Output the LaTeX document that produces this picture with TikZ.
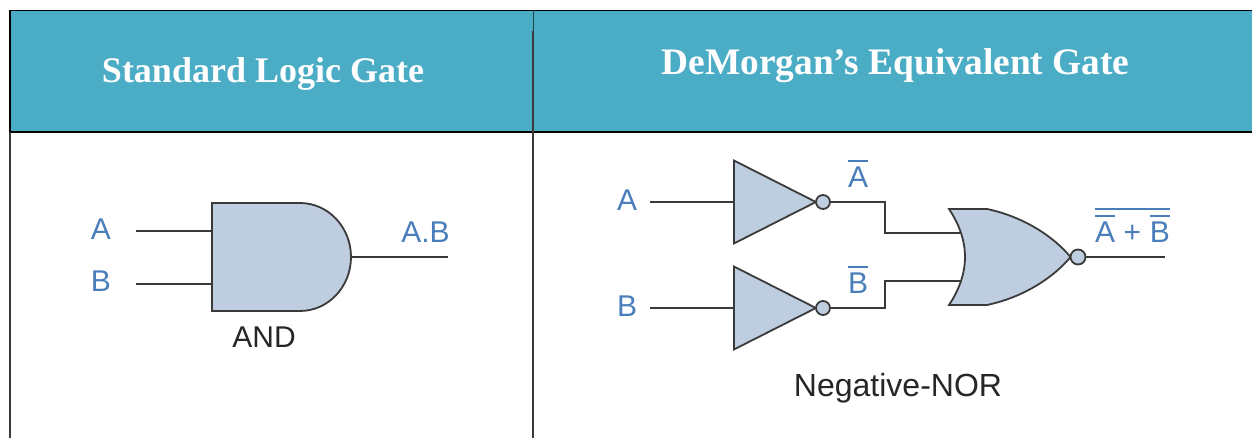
\documentclass[tikz,border=0pt]{standalone}
\usepackage{fontspec}
\setmainfont{Liberation Sans}
\newfontfamily\headfont{Liberation Serif}
\usetikzlibrary{positioning}
\usetikzlibrary{shapes.geometric}
\definecolor{headteal}{HTML}{4BACC6}
\definecolor{gatefill}{HTML}{BFCDE0}
\definecolor{gateline}{HTML}{3A3A3A}
\definecolor{labelblue}{HTML}{4A7EBB}
\newcommand{\ovl}[1]{\leavevmode\vbox{\hrule height 2.2pt \kern 5pt \hbox{#1}}}
\tikzset{
    headtxt/.style={anchor=base,text=white,font=\headfont\bfseries\fontsize{36}{36}\selectfont},
    lbltxt/.style={anchor=base,text=labelblue,font=\fontsize{30}{30}\selectfont,inner sep=0pt},
    gatetxt/.style={anchor=base,text=black!85,font=\fontsize{30}{30}\selectfont,inner sep=0pt},
    gatebody/.style={draw=gateline,fill=gatefill,line width=1.8pt},
    invgate/.style={gatebody,isosceles triangle,isosceles triangle stretches,minimum width=83pt,minimum height=82pt,inner sep=0pt},
    bubble/.style={gatebody,circle,minimum size=14pt,inner sep=0pt},
    wire/.style={draw=gateline,line width=2pt}
}
\begin{document}
\begin{tikzpicture}[x=1pt,y=1pt]
                \useasboundingbox (0,0) rectangle (1252,438);
                \fill[headteal] (10,306) rectangle (1252,427.5);
                \draw[black,line width=1.6pt] (9,427.5) -- (1252,427.5);
                \draw[black,line width=2.4pt] (9,306) -- (1252,306);
                \draw[black,line width=1.6pt] (10,427.5) -- (10,306);
                \draw[gateline,line width=1.8pt] (10,306) -- (10,0);
                \draw[gateline,line width=1.8pt] (533,407) -- (533,0);
                \draw[black!60!headteal,line width=1pt] (533,427.5) -- (533,407);
                \node[headtxt] (head_l) at (263,355.5) {Standard Logic Gate};
                \node[headtxt,font=\headfont\bfseries\fontsize{37.4}{37.4}\selectfont] (head_r) at (895.5,363) {DeMorgan’s Equivalent Gate};

                \coordinate (and_nw) at (212,235);
                \coordinate (and_sw) at (212,127);
                \coordinate (and_out) at (351,181);
                \coordinate (and_ia) at (212,207);
                \coordinate (and_ib) at (212,154);
                \coordinate (a_1) at (136,207);
                \coordinate (b_1) at (136,154);
                \coordinate (y_1) at (448,181);
                \draw[gatebody] (and_nw) -- (300,235) arc [start angle=90,end angle=-90,x radius=51pt,y radius=54pt] -- (and_sw) -- cycle;
                \draw[wire] (a_1) -- (and_ia);
                \draw[wire] (b_1) -- (and_ib);
                \draw[wire] (and_out) -- (y_1);
                \node[lbltxt] (a_l1) at (101,198) {A};
                \node[lbltxt] (b_l1) at (101,146.3) {B};
                \node[lbltxt] (y_l1) at (425.5,195) {A.B};
                \node[gatetxt] (and_l) at (264,90.3) {AND};

                \node[invgate,anchor=west] (inv_a) at (733,236) {};
                \node[invgate,anchor=west] (inv_b) at (733,130) {};
                \node[bubble] (bub_a) at (823,236) {};
                \node[bubble] (bub_b) at (823,130) {};
                \coordinate (a_2) at (650,236);
                \coordinate (b_2) at (650,130);
                \coordinate (elb_a) at (885,205);
                \coordinate (elb_b) at (885,157);
                \coordinate (or_ia) at (962,205);
                \coordinate (or_ib) at (962,157);
                \coordinate (or_nw) at (949,229);
                \coordinate (or_sw) at (949,133);
                \coordinate (or_tip) at (1070.5,181);
                \coordinate (y_2) at (1165,181);
                \draw[wire] (a_2) -- (inv_a.west);
                \draw[wire] (b_2) -- (inv_b.west);
                \draw[wire] (bub_a.east) -| (elb_a) -- (or_ia);
                \draw[wire] (bub_b.east) -| (elb_b) -- (or_ib);
                \draw[gatebody] (or_nw) -- (987,229) .. controls (1025,221) and (1055,200) .. (or_tip) .. controls (1055,162) and (1025,141) .. (987,133) -- (or_sw) .. controls (970.3,165) and (970.3,197) .. (or_nw) -- cycle;
                \node[bubble,minimum size=15pt] (bub_o) at (1078,181) {};
                \draw[wire] (bub_o.east) -- (y_2);
                \node[lbltxt] (a_l2) at (627,227.3) {A};
                \node[lbltxt] (b_l2) at (627,121) {B};
                \node[lbltxt] (na_l) at (858,250.3) {\ovl{A}};
                \node[lbltxt] (nb_l) at (858,144) {\ovl{B}};
                \node[lbltxt] (ny_l) at (1132.5,195) {\ovl{\ovl{A}\kern 8.5pt+\kern 8.5pt\ovl{B}}};
                \node[gatetxt,font=\fontsize{32}{32}\selectfont] (nor_l) at (898,41) {Negative-NOR};
            \end{tikzpicture}
\end{document}
